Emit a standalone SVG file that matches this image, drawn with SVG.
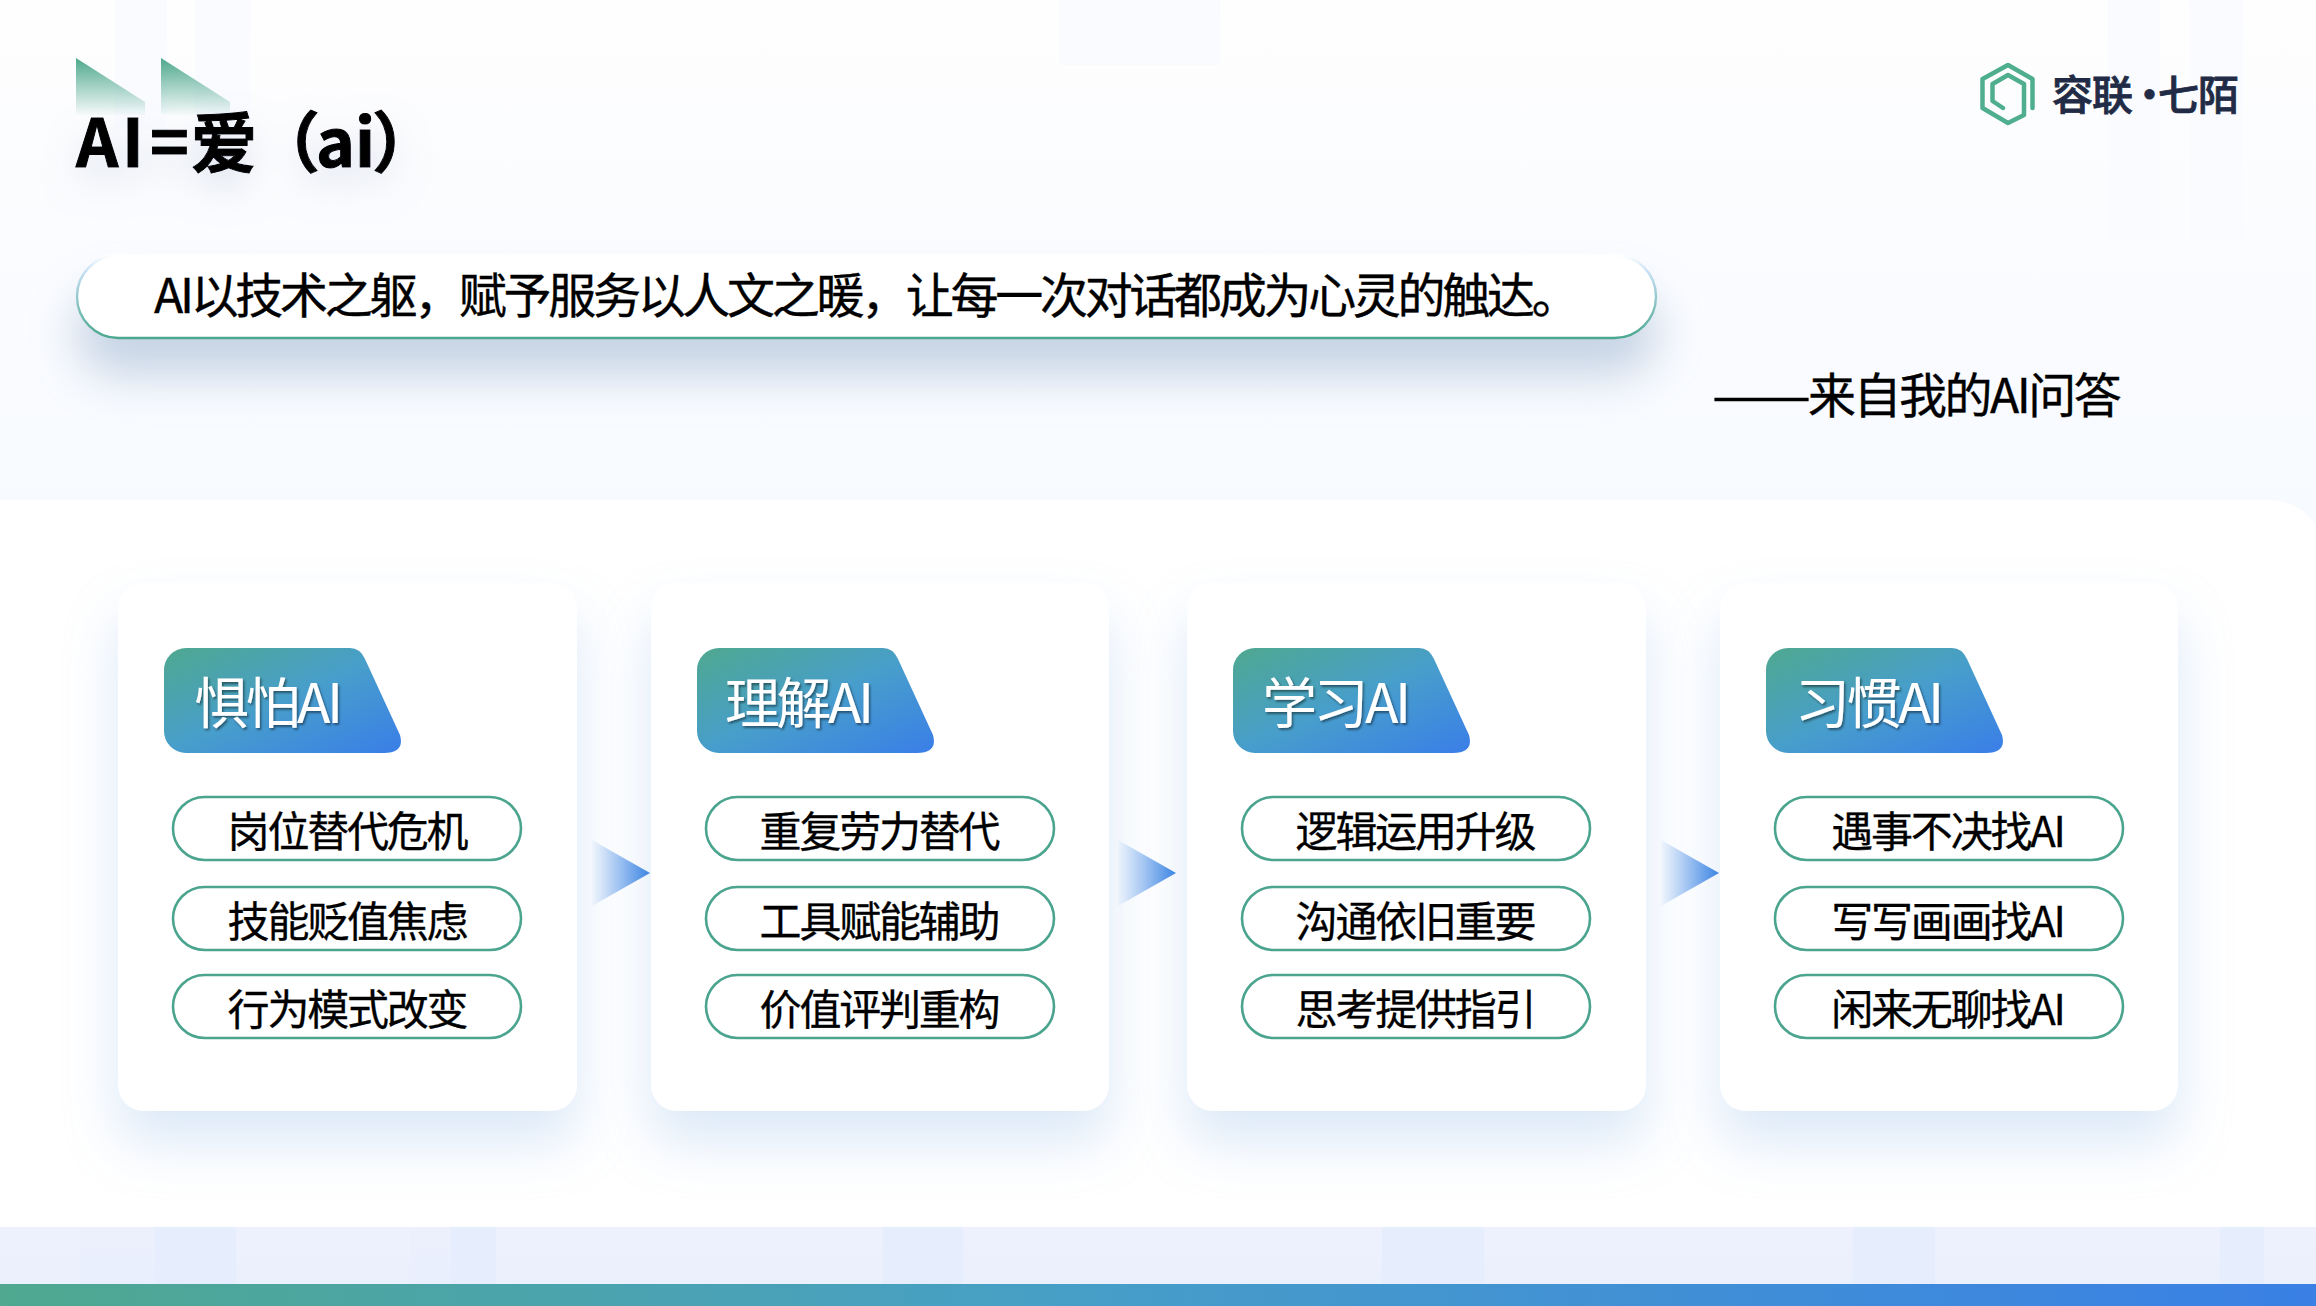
<svg xmlns="http://www.w3.org/2000/svg" width="2316" height="1306" viewBox="0 0 2316 1306">
<style>
text{font-family:"Noto Sans CJK SC","Noto Sans",sans-serif;fill:#000}
.title{font-size:66px;font-weight:700;stroke:#000;stroke-width:1}
.quote{font-size:48px;letter-spacing:-3.300px;stroke:#000;stroke-width:.35}
.attr{letter-spacing:-2.500px}
.tabt{font-size:55px;letter-spacing:-3.500px;fill:#fff;filter:url(#ts)}
.pt{font-size:42px;letter-spacing:-2.200px;text-anchor:middle;stroke:#000;stroke-width:.3}
.card{fill:#fff;filter:url(#cs)}
.pill{fill:#fff;stroke:#4aa48e;stroke-width:2.6}
.tab{fill:url(#tg)}
.arrow{fill:url(#ag)}
.p{fill:#f9fbff}
.q{fill:#e6edfd}
.q2{fill:#e6edfd;opacity:.18}
</style>
<defs>
<linearGradient id="bg" x1="0" y1="0" x2="0" y2="1"><stop offset="0" stop-color="#fefefe"/><stop offset=".5" stop-color="#fbfcff"/><stop offset="1" stop-color="#f7faff"/></linearGradient>
<linearGradient id="band" x1="0" y1="0" x2="0" y2="1"><stop offset="0" stop-color="#eef1fd"/><stop offset="1" stop-color="#ebf0fd"/></linearGradient>
<linearGradient id="bar" x1="0" y1="0" x2="1" y2="0"><stop offset="0" stop-color="#4fa88f"/><stop offset=".45" stop-color="#479fc6"/><stop offset="1" stop-color="#3a80e5"/></linearGradient>
<linearGradient id="tri" x1="0" y1="0" x2="0" y2="1"><stop offset="0" stop-color="#4fa88c"/><stop offset="1" stop-color="#4fa88c" stop-opacity=".03"/></linearGradient>
<linearGradient id="tg" x1="0" y1="0" x2="1" y2="1"><stop offset="0" stop-color="#4fa88f"/><stop offset=".5" stop-color="#479ecb"/><stop offset="1" stop-color="#3a7ee8"/></linearGradient>
<linearGradient id="ag" x1="0" y1="0" x2="1" y2="0"><stop offset="0" stop-color="#3d85e3" stop-opacity=".03"/><stop offset="1" stop-color="#3d85e3"/></linearGradient>
<linearGradient id="bs" x1="0" y1="0" x2="0" y2="1"><stop offset="0" stop-color="#fff"/><stop offset=".2" stop-color="#c5dff5"/><stop offset="1" stop-color="#4aa78f"/></linearGradient>
<filter id="cs" x="-25%" y="-25%" width="150%" height="150%"><feDropShadow dx="0" dy="32" stdDeviation="26" flood-color="#a8c8ee" flood-opacity=".4"/></filter>
<filter id="bsh" x="-5%" y="-80%" width="110%" height="320%"><feDropShadow dx="0" dy="36" stdDeviation="23" flood-color="#8fa8c8" flood-opacity=".48"/></filter>
<filter id="tsh" x="-30%" y="-60%" width="160%" height="260%"><feDropShadow dx="0" dy="16" stdDeviation="18" flood-color="#8c9cc0" flood-opacity=".28"/></filter>
<filter id="ts" x="-10%" y="-20%" width="120%" height="150%"><feDropShadow dx="1.500" dy="2" stdDeviation="1" flood-color="#000" flood-opacity=".45"/></filter>
<path id="tabshape" class="tab" d="M22 0H186Q196 0 201 11L236 87Q241 105 220 105H22A22 22 0 0 1 0 83V22A22 22 0 0 1 22 0Z"/>
<path id="tri1" fill="url(#tri)" d="M0 0L69 44V57H0Z"/>
<path id="arr" class="arrow" d="M0 0L58 33L0 66Z"/>
</defs>

<rect width="2316" height="500" fill="url(#bg)"/>
<rect y="500" width="2316" height="60" fill="#f7faff"/>
<g id="bg-patches">
<rect class="p" x="115" y="0" width="52" height="130"/>
<rect class="p" x="195" y="0" width="55" height="130"/>
<rect class="p" x="1059" y="0" width="161" height="65"/>
<rect class="p" x="2108" y="0" width="52" height="240"/>
<rect class="p" x="2190" y="0" width="53" height="240"/>
</g>
<path id="panel" fill="#fff" d="M0 500H2269A57 57 0 0 1 2316 525V1227H0Z"/>
<rect id="band-strip" y="1227" width="2316" height="57" fill="url(#band)"/>
<g id="band-patches">
<rect class="q2" x="80" y="1227" width="75" height="57"/>
<rect class="q" x="155" y="1227" width="81" height="57"/>
<rect class="q" x="451" y="1227" width="45" height="57"/>
<rect class="q2" x="410" y="1227" width="41" height="57"/>
<rect class="q" x="883" y="1227" width="80" height="57"/>
<rect class="q" x="1382" y="1227" width="102" height="57"/>
<rect class="q" x="1853" y="1227" width="82" height="57"/>
<rect class="q" x="2220" y="1227" width="44" height="57"/>
</g>
<rect id="bottom-bar" y="1284" width="2316" height="22" fill="url(#bar)"/>

<g id="title">
<use href="#tri1" x="76" y="58"/>
<use href="#tri1" x="161" y="58"/>
<text class="title" x="76 122 150 191 254 316 355 372" y="167" filter="url(#tsh)">AI=爱（ai）</text>
</g>

<g id="logo">
<path d="M2032.500 108V79L2008 65L1982.500 79V108L2008 123L2024 115V84L2008 75L1992.500 84V101L2003 108" fill="none" stroke="#4fae8e" stroke-width="4.500" stroke-linecap="round" stroke-linejoin="round"/>
<text x="2052 2092 2129 2158 2198" y="110" font-size="41" font-weight="500" style="fill:#222b45;stroke:#222b45;stroke-width:.8">容联·七陌</text>
</g>

<g id="quote-banner">
<rect x="77" y="255" width="1579" height="83" rx="41.500" fill="#fff" stroke="url(#bs)" stroke-width="2.400" filter="url(#bsh)"/>
<text class="quote" x="154" y="313">AI以技术之躯，赋予服务以人文之暖，让每一次对话都成为心灵的触达。</text>
</g>
<g id="attribution"><text class="quote attr" x="1712" y="413"><tspan textLength="96" lengthAdjust="spacingAndGlyphs">——</tspan>来自我的AI问答</text></g>

<g id="card-1">
<rect class="card" x="118" y="583" width="459" height="528" rx="26"/>
<use href="#tabshape" x="164" y="648"/>
<text class="tabt" x="194" y="723">惧怕AI</text>
<rect class="pill" x="173" y="797" width="348" height="63" rx="31.500"/>
<text class="pt" x="347" y="847">岗位替代危机</text>
<rect class="pill" x="173" y="887" width="348" height="63" rx="31.500"/>
<text class="pt" x="347" y="937">技能贬值焦虑</text>
<rect class="pill" x="173" y="975" width="348" height="63" rx="31.500"/>
<text class="pt" x="347" y="1025">行为模式改变</text>
</g>
<g id="card-2">
<rect class="card" x="651" y="583" width="458" height="528" rx="26"/>
<use href="#tabshape" x="697" y="648"/>
<text class="tabt" x="725" y="723">理解AI</text>
<rect class="pill" x="706" y="797" width="348" height="63" rx="31.500"/>
<text class="pt" x="879" y="847">重复劳力替代</text>
<rect class="pill" x="706" y="887" width="348" height="63" rx="31.500"/>
<text class="pt" x="879" y="937">工具赋能辅助</text>
<rect class="pill" x="706" y="975" width="348" height="63" rx="31.500"/>
<text class="pt" x="879" y="1025">价值评判重构</text>
</g>
<g id="card-3">
<rect class="card" x="1187" y="583" width="459" height="528" rx="26"/>
<use href="#tabshape" x="1233" y="648"/>
<text class="tabt" x="1262" y="723">学习AI</text>
<rect class="pill" x="1242" y="797" width="348" height="63" rx="31.500"/>
<text class="pt" x="1415" y="847">逻辑运用升级</text>
<rect class="pill" x="1242" y="887" width="348" height="63" rx="31.500"/>
<text class="pt" x="1415" y="937">沟通依旧重要</text>
<rect class="pill" x="1242" y="975" width="348" height="63" rx="31.500"/>
<text class="pt" x="1415" y="1025">思考提供指引</text>
</g>
<g id="card-4">
<rect class="card" x="1720" y="583" width="458" height="528" rx="26"/>
<use href="#tabshape" x="1766" y="648"/>
<text class="tabt" x="1795" y="723">习惯AI</text>
<rect class="pill" x="1775" y="797" width="348" height="63" rx="31.500"/>
<text class="pt" x="1947.500" y="847">遇事不决找AI</text>
<rect class="pill" x="1775" y="887" width="348" height="63" rx="31.500"/>
<text class="pt" x="1947.500" y="937">写写画画找AI</text>
<rect class="pill" x="1775" y="975" width="348" height="63" rx="31.500"/>
<text class="pt" x="1947.500" y="1025">闲来无聊找AI</text>
</g>

<g id="connectors">
<use href="#arr" x="592" y="840"/>
<use href="#arr" x="1118" y="840"/>
<use href="#arr" x="1661" y="840"/>
</g>
</svg>
